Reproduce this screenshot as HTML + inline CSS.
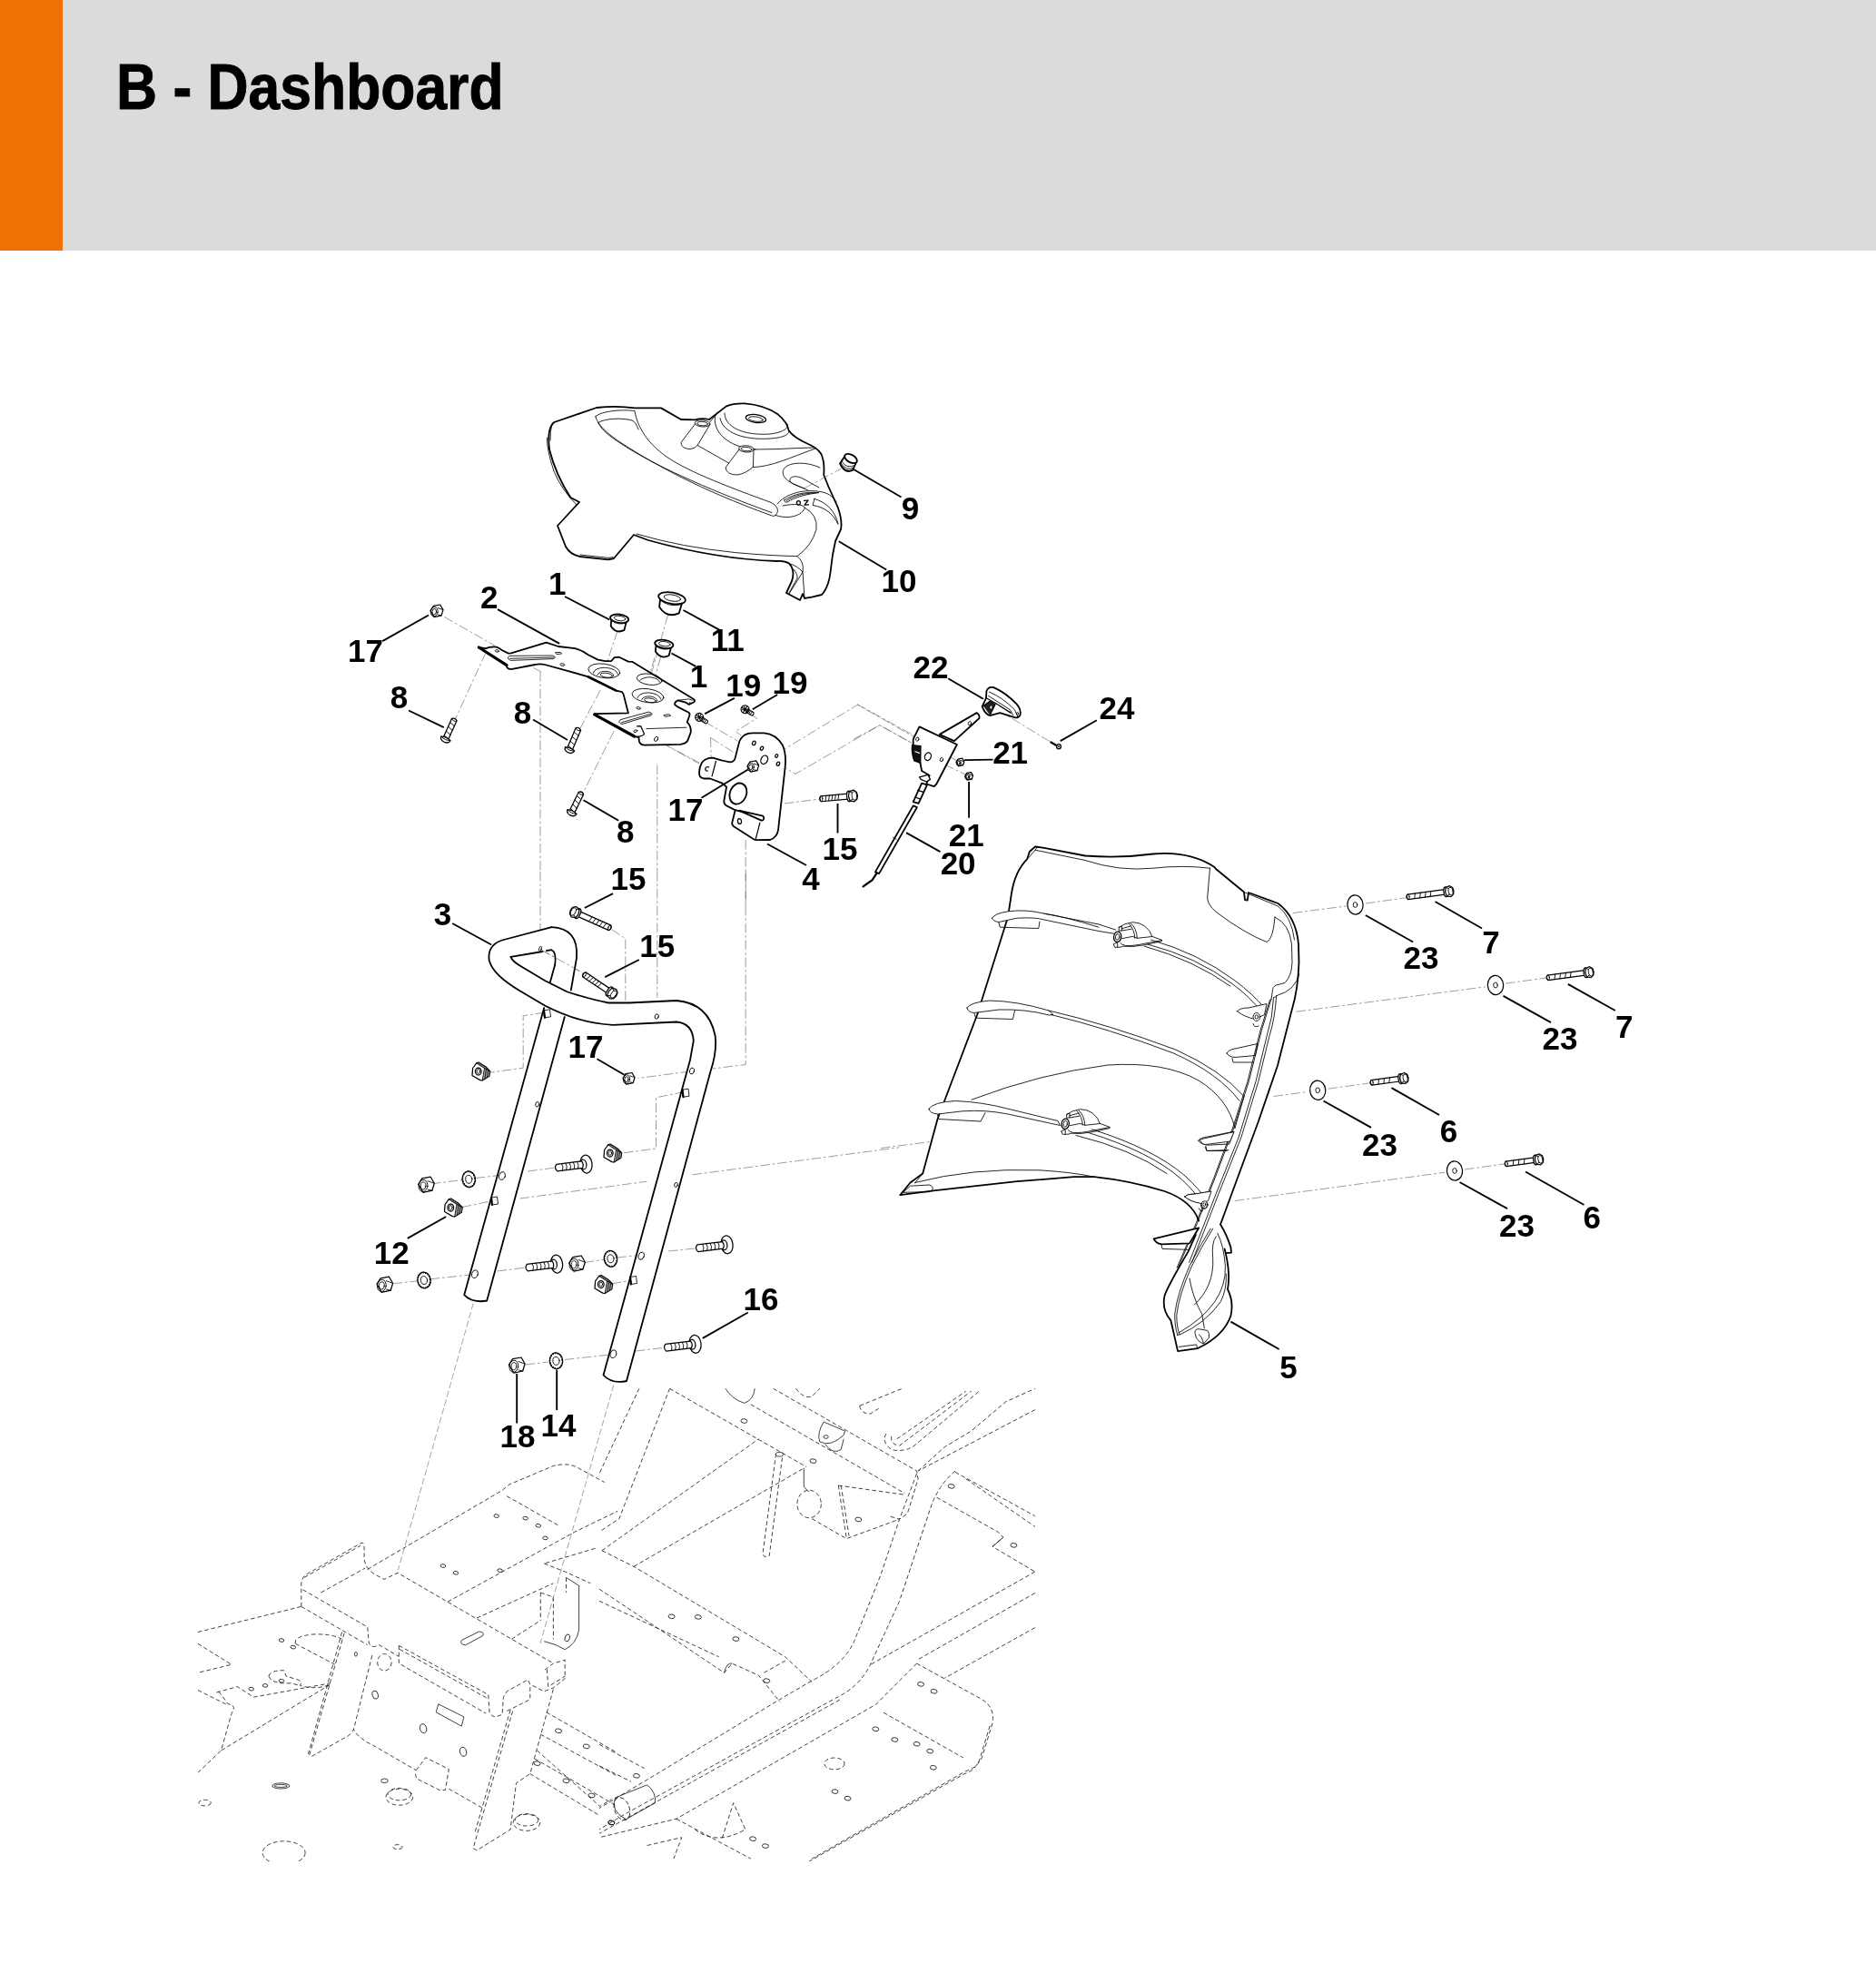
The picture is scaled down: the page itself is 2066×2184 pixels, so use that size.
<!DOCTYPE html>
<html><head><meta charset="utf-8"><title>B - Dashboard</title>
<style>
html,body{margin:0;padding:0;background:#fff;}
body{width:2066px;height:2184px;position:relative;overflow:hidden;font-family:"Liberation Sans",sans-serif;}
#hdr{position:absolute;left:0;top:0;width:2066px;height:275.5px;background:#dadbdb;}
#bar{position:absolute;left:0;top:0;width:69px;height:275.5px;background:#ee7203;}
#ttl{-webkit-text-stroke:0.9px #000;position:absolute;left:128px;top:56px;font-size:69.5px;transform-origin:0 0;transform:scaleX(0.898);font-weight:700;color:#000;white-space:nowrap;letter-spacing:0px;line-height:80px;}
svg{position:absolute;left:0;top:0;will-change:transform;}
.k{fill:none;stroke:#000;stroke-width:1.8;stroke-linejoin:round;stroke-linecap:round;}
.m{fill:none;stroke:#000;stroke-width:1.25;stroke-linejoin:round;stroke-linecap:round;}
.t{fill:none;stroke:#000;stroke-width:0.85;stroke-linejoin:round;stroke-linecap:round;}
.w{fill:#fff;}
.f{fill:#fff;stroke:none;}
.ld{fill:none;stroke:#000;stroke-width:1.9;stroke-linecap:butt;}
.dd{fill:none;stroke:#5a5a5a;stroke-width:0.6;stroke-dasharray:10.5 2.8 2.8 2.8;}
.dl{fill:none;stroke:#666;stroke-width:0.6;stroke-dasharray:7 3;}
.g{fill:none;stroke:#111;stroke-width:0.8;stroke-dasharray:4.6 2.9;stroke-linejoin:round;}
.gs{fill:none;stroke:#111;stroke-width:0.8;stroke-linejoin:round;}
.n{font-family:"Liberation Sans",sans-serif;font-weight:700;font-size:35px;fill:#000;text-anchor:middle;}
</style></head><body>
<div id="hdr"></div><div id="bar"></div><div id="ttl">B - Dashboard</div>
<svg width="2066" height="2184" viewBox="0 0 2066 2184">
<!-- 03_frame.svg -->
<clipPath id="fc"><rect x="218" y="1529" width="922" height="521"/></clipPath>
<g clip-path="url(#fc)">
<path class="g" d="M331.8,1769.4L331.8,1743.8Q332.5,1736.6 338.2,1733.5L397.5,1699.5Q401.1,1698.2 401.1,1702.8L401.1,1716.9Q402.7,1728.9 414.9,1735.1L423.1,1739.4L438,1732.3L609.4,1832"/>
<path class="g" d="M333.6,1750.9L404.7,1791.9L406.2,1809Q407.8,1814.1 412.9,1813.4L417.5,1811.6L439.3,1824.4"/>
<path class="g" d="M335.1,1737.4L397,1702.3"/>
<path class="g" d="M331.8,1769.4L404.7,1811.6"/>
<path class="g" d="M439.3,1812.3L537.8,1866.6L539,1885.8Q541.6,1890.9 546,1890.9L553.1,1888.3L554.4,1869.2L558.2,1862.8L581.3,1850L583.8,1855.1L599.2,1862.8L609.4,1858.9L622.2,1848.7L622.2,1828.2L609.4,1832L599.2,1839.7"/>
<path class="g" d="M439.3,1812.3L439.3,1832L535.2,1887.1"/>
<path class="g" d="M558.2,1884.5L583.8,1871.7L583.8,1855.1"/>
<path class="g" d="M602.3,1838.4L603.8,1857.6L622.2,1846.1"/>
<path class="g" d="M440,1816.4L536.2,1870.2"/>
<path class="g" d="M353.5,1754L402.1,1727.1"/>
<path class="g" d="M404.7,1728.4L553.1,1641.4L560.8,1635L609.4,1614.5Q624.8,1610.7 635,1615.8L665.7,1632.5"/>
<path class="g" d="M558.2,1647.8L614.5,1679.8"/>
<path class="g" d="M493,1764.2L632.4,1687.5L680,1664.4"/>
<path class="g" d="M379.1,1798.8L340.7,1933.1L343.3,1934.4L384.2,1911.4L389.4,1905L393.2,1910.1L402.1,1917.8L409.8,1921.6L458.4,1949.8"/>
<path class="g" d="M376.6,1797.5L339.5,1931.8"/>
<path class="g" d="M409.8,1823.1L389.4,1905"/>
<path class="g" d="M458.4,1949.8L468.7,1935.7L494.3,1948.5L490.4,1971.5L484,1971.5L458.4,1958.7L457.2,1951"/>
<path class="g" d="M494.3,1970.2L532.7,1992"/>
<path class="g" d="M564.6,1884.5L521.1,2035.5L525,2038L562.1,2015L568.5,1963.8L583.8,1953.6L609.4,1860.2"/>
<path class="g" d="M562.1,1883.2L522.9,2018.8"/>
<path class="g" d="M217.9,1797.5L331.8,1769.4"/>
<path class="g" d="M217.9,1810.3L255,1833.3L217.9,1842.3"/>
<path class="g" d="M217.9,1861.5L251.2,1878.1"/>
<path class="g" d="M325.4,1810.3Q322.8,1802.6 343.3,1800.1Q363.8,1798.8 376.6,1805.2"/>
<path class="g" d="M325.4,1810.3L368.9,1833.3"/>
<path class="g" d="M238.4,1864L261.4,1857.6L279.3,1869.2L363.8,1853.8"/>
<path class="g" d="M240.9,1862.8L251.2,1876.8Q261.4,1878.1 255,1887.1L243.5,1928L363.8,1855.1"/>
<path class="g" d="M217.9,1952.3L243.5,1928"/>
<path class="g" d="M296,1846.1Q297.2,1839.7 312.6,1839.7L315.1,1846.1L327.9,1850Q333.1,1851.2 330.5,1856.4Q348.4,1861.5 363.8,1855.1"/>
<path class="g" d="M296,1846.1Q299.8,1855.1 320.3,1853.8L330.5,1856.4"/>
<ellipse class="g" cx="439.8" cy="1979.2" rx="14.8" ry="9"/>
<ellipse class="g" cx="439.8" cy="1976.1" rx="12.8" ry="6.7"/>
<ellipse class="g" cx="580" cy="2007.3" rx="14.8" ry="9"/>
<ellipse class="g" cx="580" cy="2004.3" rx="12.8" ry="6.7"/>
<ellipse class="g" cx="312.6" cy="2040.6" rx="23.5" ry="12.8"/>
<ellipse class="gs" cx="309.3" cy="1966.9" rx="9.5" ry="3.1"/>
<ellipse class="gs" cx="309.3" cy="1966.9" rx="7.2" ry="1.5"/>
<ellipse class="g" cx="225.6" cy="1985.6" rx="6.7" ry="3.3"/>
<ellipse class="g" cx="438" cy="2034.2" rx="5.1" ry="2.6"/>
<ellipse class="gs" cx="423.4" cy="1961.3" rx="3.8" ry="2.3"/>
<ellipse class="g" cx="423.4" cy="1830.8" rx="7.7" ry="9.2"/>
<ellipse class="gs" cx="413.2" cy="1866.6" rx="3.1" ry="4.6" transform="rotate(-15 413.2 1866.6)"/>
<ellipse class="gs" cx="466.1" cy="1903.7" rx="3.6" ry="5.1" transform="rotate(-15 466.1 1903.7)"/>
<ellipse class="gs" cx="510.1" cy="1929.3" rx="3.6" ry="5.1" transform="rotate(-15 510.1 1929.3)"/>
<ellipse class="gs" cx="391.9" cy="1821.8" rx="1.5" ry="2.3"/>
<path class="gs" d="M482.8,1876.8L510.9,1890.9L508.3,1901.1L480.2,1885.8Z"/>
<path class="gs" d="M508.3,1806.5Q505.8,1810.8 512.7,1811.8L531.6,1801.6Q534.2,1797.5 527.5,1797Z"/>
<ellipse class="gs" cx="546.7" cy="1669.6" rx="2.8" ry="1.8" transform="rotate(10 546.7 1669.6)"/>
<ellipse class="gs" cx="578.7" cy="1672.1" rx="2.8" ry="1.8" transform="rotate(10 578.7 1672.1)"/>
<ellipse class="gs" cx="592.8" cy="1680.3" rx="2.8" ry="1.8" transform="rotate(10 592.8 1680.3)"/>
<ellipse class="gs" cx="600.5" cy="1693.9" rx="2.8" ry="1.8" transform="rotate(10 600.5 1693.9)"/>
<ellipse class="gs" cx="487.9" cy="1724.6" rx="2.8" ry="1.8" transform="rotate(10 487.9 1724.6)"/>
<ellipse class="gs" cx="501.9" cy="1732.3" rx="2.8" ry="1.8" transform="rotate(10 501.9 1732.3)"/>
<ellipse class="gs" cx="550.6" cy="1729.7" rx="2.8" ry="1.8" transform="rotate(10 550.6 1729.7)"/>
<ellipse class="gs" cx="310" cy="1806.5" rx="2.8" ry="1.8" transform="rotate(10 310 1806.5)"/>
<ellipse class="gs" cx="322.8" cy="1814.1" rx="2.8" ry="1.8" transform="rotate(10 322.8 1814.1)"/>
<ellipse class="gs" cx="276.8" cy="1860.2" rx="2.8" ry="1.8" transform="rotate(10 276.8 1860.2)"/>
<ellipse class="gs" cx="292.1" cy="1856.4" rx="2.8" ry="1.8" transform="rotate(10 292.1 1856.4)"/>
<ellipse class="gs" cx="310" cy="1851.2" rx="2.8" ry="1.8" transform="rotate(10 310 1851.2)"/>
<path class="g" d="M595.3,1754L595.3,1784.7"/>
<path class="g" d="M595.3,1754L609.4,1759.1L609.4,1805.2"/>
<path class="gs" d="M623.5,1737.4L637.6,1746.3L637.6,1794.9Q635,1810.3 622.2,1816.7L612,1811.6L599.2,1807.7"/>
<path class="g" d="M623.5,1737.4L623.5,1754"/>
<ellipse class="gs" cx="624.8" cy="1803.9" rx="2.6" ry="4.1" transform="rotate(20 624.8 1803.9)"/>
<path class="g" d="M525,1782.1L609.4,1743.8"/>
<path class="g" d="M563.4,1805.2L595.3,1784.7"/>
<path class="g" d="M599.2,1722L622.2,1731L650.4,1743.8"/>
<path class="g" d="M655.5,1705.4L599.2,1722"/>
<path class="g" d="M601.7,1885.8L680,1930.6"/>
<path class="g" d="M595.3,1910.1L680,1956.2"/>
<path class="g" d="M591.5,1928L660.6,1989.4L673.4,1981.7"/>
<path class="g" d="M588.9,1937L680,1989.4"/>
<path class="g" d="M583.8,1953.6L660.6,1999.7"/>
<ellipse class="gs" cx="615" cy="1906.3" rx="3.6" ry="2.3" transform="rotate(10 615 1906.3)"/>
<ellipse class="gs" cx="645.8" cy="1923.4" rx="3.6" ry="2.3" transform="rotate(10 645.8 1923.4)"/>
<ellipse class="gs" cx="591.5" cy="1942.1" rx="3.6" ry="2.3" transform="rotate(10 591.5 1942.1)"/>
<ellipse class="gs" cx="623.5" cy="1961.3" rx="3.6" ry="2.3" transform="rotate(10 623.5 1961.3)"/>
<ellipse class="gs" cx="651.6" cy="1977.4" rx="3.6" ry="2.3" transform="rotate(10 651.6 1977.4)"/>
<ellipse class="gs" cx="673.4" cy="2007.3" rx="3.6" ry="2.3" transform="rotate(10 673.4 2007.3)"/>
<path class="g" d="M737.5,1529.3L888.2,1615.6"/>
<path class="g" d="M851.6,1529.3L1009.6,1620L1011.1,1628.7L999.4,1666.8L990.6,1673.2L978.9,1669.7"/>
<path class="g" d="M826.8,1546.8L996.5,1644.8"/>
<path class="g" d="M703.9,1529.3L660,1622.9"/>
<path class="g" d="M737.5,1529.3L681.9,1672.6L660,1687.2"/>
<path class="g" d="M1009.6,1622.9L990.6,1673.2L970.1,1734.1L940.9,1807.2Q929.2,1833.5 894.1,1851.1L858.9,1871.6L721.4,1954.9L660,1991.5"/>
<path class="g" d="M1052,1620Q1034.5,1634.6 1025.7,1658L990.6,1763.3L958.4,1833.5Q946.7,1856.9 923.3,1868.6L689.3,1997.4L660,2014.9"/>
<path class="g" d="M924.8,1872.1L660,2019.3"/>
<path class="g" d="M1009.6,1832.1L1081.3,1871.6Q1095.9,1880.3 1093,1897.9L1081.3,1935.9Q1075.4,1947.6 1063.7,1950.6L894.1,2047.1"/>
<path class="g" d="M1090.1,1900.8L1079,1937.4Q1074,1950 1062.3,1953.5L891.1,2050"/>
<path class="g" d="M1009.6,1832.1L964.3,1877.4L744.8,2003.2L660,2023.7"/>
<path class="g" d="M973,1886.2L1060.8,1935.9"/>
<path class="g" d="M1052,1621.4L1139.8,1669.7"/>
<path class="g" d="M1031.6,1649.2L1098.9,1687.2L1104.7,1693.1L1093,1703.3L1139.8,1731.1"/>
<path class="g" d="M1063.7,1628.7L1139.8,1681.4"/>
<path class="g" d="M1139.8,1731.1L958.4,1833.5"/>
<path class="g" d="M1139.8,1754.5L1011.1,1827.7"/>
<path class="g" d="M1139.8,1792.6L1040.3,1848.2"/>
<path class="g" d="M1139.8,1552.7L1011.1,1620"/>
<path class="g" d="M662.9,1707.7L835.5,1584.8"/>
<path class="g" d="M698,1725.3L885.3,1617"/>
<path class="g" d="M662.9,1707.7L698,1725.3L864.8,1824.8L894.1,1852.5"/>
<path class="g" d="M660,1750.1L797.5,1842.3L806.3,1832.1L835.5,1845.2L858.9,1874.5"/>
<path class="g" d="M660,1763.3L791.7,1824.8"/>
<path class="g" d="M841.4,1842.3L864.8,1829.1"/>
<path class="g" d="M854.6,1600.9L839.9,1712.1Q842.9,1716.5 847.2,1713.6L861.9,1602.4"/>
<ellipse class="gs" cx="858.4" cy="1601.8" rx="4.1" ry="2.3"/>
<path class="gs" d="M885.3,1617L885.3,1637.5L891.1,1643.4"/>
<ellipse class="g" cx="891.1" cy="1656.5" rx="13.2" ry="15.2"/>
<path class="g" d="M894.1,1672.6L932.1,1694.6L990.6,1673.2"/>
<path class="g" d="M923.3,1636L932.1,1693.1"/>
<path class="g" d="M926.2,1636L935,1691.6"/>
<path class="g" d="M923.3,1636L996.5,1646.3"/>
<path class="gs" d="M907.2,1565.8Q899.3,1579 902.8,1587.8Q914.5,1594.2 929.2,1580.5L930.6,1576.1L908.7,1566.7Z"/>
<path class="gs" d="M908.7,1590.7Q917.5,1602.4 926.2,1596.5L929.2,1584.8"/>
<ellipse class="gs" cx="909.6" cy="1582.5" rx="2.6" ry="1.8"/>
<path class="g" d="M946.7,1548.3L993.5,1529.3"/>
<path class="g" d="M946.7,1548.3Q948.2,1557.1 958.4,1557.1L970.1,1549.7"/>
<path class="g" d="M976,1579Q970.1,1587.8 981.8,1596.5Q993.5,1599.5 1005.2,1593.6L1078.4,1532.2"/>
<path class="g" d="M981.8,1581.9Q980.4,1590.7 990.6,1592.2L1069.6,1532.2"/>
<path class="g" d="M987.7,1584.8L1063.7,1532.2"/>
<path class="g" d="M1011.1,1620L1040.3,1593.6L1069.6,1576.1L1107.6,1543.9L1139.8,1529.3"/>
<path class="gs" d="M799,1529.3Q806.3,1541 819.4,1545.3Q829.7,1542.4 831.2,1529.3"/>
<path class="g" d="M876.5,1529.3Q885.3,1541 894.1,1538L902.8,1529.3"/>
<path class="gs" d="M677.6,1979.8Q671.7,1994.4 689.3,2003.8L721.4,1985.7Q722.9,1974 712.7,1965.8Z"/>
<ellipse class="g" cx="684.9" cy="1992.1" rx="8.2" ry="12.9" transform="rotate(-20 684.9 1992.1)"/>
<path class="g" d="M744.8,2003.2L826.8,2047.1"/>
<path class="g" d="M765.3,2014.9Q788.7,2033.1 820.9,2014.9L807.7,1985.7L794.6,2026.6"/>
<path class="g" d="M712.7,2032.5L750.7,2023.7L741.9,2047.1"/>
<path class="g" d="M660,1921.3L709.7,1947.6"/>
<path class="g" d="M660,1944.7L695.1,1962.3"/>
<path class="gs" d="M797.5,1842.3Q800.4,1830.6 806.3,1832.1"/>
<path class="gs" d="M1093,1703.3L1101.8,1696L1104.7,1693.1"/>
<ellipse class="gs" cx="819.4" cy="1565" rx="3.5" ry="2.3" transform="rotate(8 819.4 1565)"/>
<ellipse class="gs" cx="895.5" cy="1609.1" rx="3.5" ry="2.3" transform="rotate(8 895.5 1609.1)"/>
<ellipse class="gs" cx="1047.7" cy="1636.9" rx="3.5" ry="2.3" transform="rotate(8 1047.7 1636.9)"/>
<ellipse class="gs" cx="1116.4" cy="1701.9" rx="3.5" ry="2.3" transform="rotate(8 1116.4 1701.9)"/>
<ellipse class="gs" cx="945.3" cy="1673.5" rx="3.5" ry="2.3" transform="rotate(8 945.3 1673.5)"/>
<ellipse class="gs" cx="739.6" cy="1780.3" rx="3.5" ry="2.3" transform="rotate(8 739.6 1780.3)"/>
<ellipse class="gs" cx="768.8" cy="1780.9" rx="3.5" ry="2.3" transform="rotate(8 768.8 1780.9)"/>
<ellipse class="gs" cx="810.4" cy="1805.1" rx="3.5" ry="2.3" transform="rotate(8 810.4 1805.1)"/>
<ellipse class="gs" cx="844.3" cy="1851.1" rx="3.5" ry="2.3" transform="rotate(8 844.3 1851.1)"/>
<ellipse class="gs" cx="1014" cy="1854.9" rx="3.5" ry="2.3" transform="rotate(8 1014 1854.9)"/>
<ellipse class="gs" cx="1028.6" cy="1862.8" rx="3.5" ry="2.3" transform="rotate(8 1028.6 1862.8)"/>
<ellipse class="gs" cx="964.3" cy="1904.3" rx="3.5" ry="2.3" transform="rotate(8 964.3 1904.3)"/>
<ellipse class="gs" cx="985.3" cy="1916" rx="3.5" ry="2.3" transform="rotate(8 985.3 1916)"/>
<ellipse class="gs" cx="1009.6" cy="1920.7" rx="3.5" ry="2.3" transform="rotate(8 1009.6 1920.7)"/>
<ellipse class="gs" cx="1024.2" cy="1928.6" rx="3.5" ry="2.3" transform="rotate(8 1024.2 1928.6)"/>
<ellipse class="gs" cx="1027.8" cy="1946.8" rx="3.5" ry="2.3" transform="rotate(8 1027.8 1946.8)"/>
<ellipse class="gs" cx="919.5" cy="1973.1" rx="3.5" ry="2.3" transform="rotate(8 919.5 1973.1)"/>
<ellipse class="gs" cx="933.6" cy="1980.7" rx="3.5" ry="2.3" transform="rotate(8 933.6 1980.7)"/>
<ellipse class="gs" cx="701" cy="1955.8" rx="3.5" ry="2.3" transform="rotate(8 701 1955.8)"/>
<ellipse class="gs" cx="673.2" cy="2007.6" rx="3.5" ry="2.3" transform="rotate(8 673.2 2007.6)"/>
<ellipse class="gs" cx="829.1" cy="2025.2" rx="3.5" ry="2.3" transform="rotate(8 829.1 2025.2)"/>
<ellipse class="gs" cx="842.9" cy="2033.1" rx="3.5" ry="2.3" transform="rotate(8 842.9 2033.1)"/>
<ellipse class="g" cx="918.9" cy="1942.4" rx="11.1" ry="6.4"/>
</g>

<!-- 05_dd1.svg -->
<path class="dd" d="M489.5,679.5 L545,711.2"/>
<path class="dd" d="M535,718.8 L501.2,792.5"/>
<path class="dd" d="M595,740 L595,960"/>
<path class="dd" d="M587.5,735.5 L596.2,740"/>
<path class="dd" d="M680,695 L665,740"/>
<path class="dd" d="M661.2,760 L638.8,802.5"/>
<path class="dd" d="M735.5,677.5 L715,750"/>
<path class="dd" d="M727.5,723.8 L714.5,770"/>
<path class="dd" d="M721.2,723.8 L716.2,740"/>
<path class="dd" d="M676.2,805 L642.5,872.5"/>
<path class="dd" d="M723.8,842.5 L723.8,960"/>
<path class="dd" d="M728,817.5 L770,840"/>

<!-- 06_dd3.svg -->
<path class="dd" d="M595,960 L595,1043.8"/>
<path class="dd" d="M596.2,1046.2 L641.2,1071.2"/>
<path class="dd" d="M723.8,960 L723.8,1098.8"/>
<path class="dd" d="M673.8,1023.8 L688.8,1033.8 L688.8,1103.8"/>
<path class="dd" d="M821.2,960 L821.2,1172.5 L785,1177"/>
<path class="dd" d="M760,1180 L702.5,1187.5"/>
<path class="dd" d="M600,1115 L576.2,1118.8 L576.2,1176.2 L540,1181.2"/>
<path class="dd" d="M753.8,1202.5 L722.5,1208.8 L722.5,1265 L685,1270"/>
<path class="dd" d="M475,1303.8 L510,1299.5"/>
<path class="dd" d="M523.8,1297.5 L550,1294.5"/>
<path class="dd" d="M581.2,1290 L610,1286.2"/>
<path class="dd" d="M508.8,1329.5 L542.5,1322.5"/>
<path class="dd" d="M572.5,1320 L712.5,1301.2"/>
<path class="dd" d="M762.5,1293.8 L990,1263.8"/>
<path class="dd" d="M432.5,1413.8 L460,1410.8"/>
<path class="dd" d="M473.8,1408.8 L520,1403.8"/>
<path class="dd" d="M547.5,1400 L577.5,1396.2"/>
<path class="dd" d="M643.8,1390.5 L666.2,1387"/>
<path class="dd" d="M679.5,1385 L703.8,1382.5"/>
<path class="dd" d="M736.2,1378 L765,1375"/>
<path class="dd" d="M673.8,1413.8 L696.2,1410"/>

<!-- 07_dd4.svg -->
<path class="dd" d="M578.8,1503 L603.8,1500"/>
<path class="dd" d="M622,1497.5 L671.2,1492"/>
<path class="dd" d="M700,1488 L730,1484.5"/>
<path class="dl" d="M521.2,1435.5 L438.5,1729"/>
<path class="dl" d="M675.8,1525.5 L595,1810"/>

<!-- 08_dd5.svg -->
<path class="dd" d="M970,1264.5 L1165,1239.5"/>

<!-- 09_dd20.svg -->
<path class="dd" d="M944.3,775.7 L1007.4,810.6"/>
<path class="dd" d="M940,814.1 L969,798.7 L1005.7,819.2"/>
<path class="dd" d="M1013.3,816.6 L1056,838.8"/>
<path class="dd" d="M1040.6,842.2 L1065.4,854.1"/>
<path class="dd" d="M1098.6,781.6 L1157.5,817.5"/>
<path class="dd" d="M776.2,795 L812.5,816.2"/>
<path class="dd" d="M826.2,786.2 L833.8,791.2 L810,805.5 L816.2,810"/>
<path class="dd" d="M782.5,812.5 L830,842.5"/>
<path class="dd" d="M782.5,812.5 L783.8,855"/>
<path class="dd" d="M730,818.8 L770,841.2"/>
<path class="dd" d="M840,824.5 L853.8,831.2 L944.5,776.2 L1012.5,815"/>
<path class="dd" d="M857.5,841.2 L875.8,852.5 L968.8,798.8 L1011.2,822.5"/>
<path class="dd" d="M863.8,885 L902.5,880"/>
<path class="dd" d="M821.2,925 L821.2,1000"/>

<!-- 09_dd23.svg -->
<path class="dd" d="M1423.8,1005.5 L1482.5,998"/>
<path class="dd" d="M1503.8,995 L1547.5,988.8"/>
<path class="dd" d="M1427.5,1114.2 L1636.2,1086.8"/>
<path class="dd" d="M1658,1083.2 L1702.5,1077"/>
<path class="dd" d="M1402.5,1207.5 L1440,1202.5"/>
<path class="dd" d="M1462.5,1199.2 L1507.5,1193"/>
<path class="dd" d="M1360,1322.5 L1591.2,1291.2"/>
<path class="dd" d="M1613,1288 L1656.2,1282"/>

<!-- 09_dd9.svg -->


<!-- 10_p10.svg -->
<path class="k w" d="M605,475Q606.4,468 610.4,465L657,449Q680,446.6 699,449.4L728,449.4L750,462L765.6,462.4Q773,460 781,462L799.6,447.6Q808,444 820,444.4Q842,446 857,456.6Q867,465 868.6,474Q874,482 890,489Q900,493 904.4,500Q908.4,509 907.2,523L912.4,536L922.4,558Q928,573 926,583L920,596L917,611L914.4,631Q912.4,647 905,655L894,657.6L886,659L884,654L881,661L866,653L872,640Q876,628 869,620.6Q864,617.4 856,618Q790,616 714,595L698,589L676,615L670,616.4L639,613Q628,611 623,602L614,579L638,553L628.4,548Q612,523 605,495Q603.6,483 605,475Z"/>
<path class="t" d="M602.4,482Q602,495 610,519Q618,539 635,556"/>
<path class="t" d="M608,467Q605.6,475 606,485"/>
<path class="t" d="M639,611L670,614.4L675,613.6"/>
<path class="t" d="M701,588Q750,602.6 810,608.6Q850,612.2 878,612.6Q894,601 899,583Q901,567 886,559"/>
<path class="t" d="M878,612.6Q886,619 884,630L886,658.6"/>
<path class="t" d="M869,620.6Q878,623 884,630L869,654"/>
<path class="t" d="M874,627Q879,633 878,637L869,653"/>
<path class="t" d="M656,458.6C662,452.6 686,450.6 699,452.6C702,471 714,489 734,503C760,521 810,539 848,553C856,556 859,563 854,567.4C853,568.6 851,568.6 849,567.6C770,539 720,511 686,489C670,479 657,467 656,458.6Z"/>
<path class="t" d="M659,465.4C666,460.6 686,460 696,463C699.6,464.6 701.2,468 703,473"/>
<path class="t" d="M659,465.4C662,475 678,485 694,495C730,517 790,543 850,564.6"/>
<path class="t" d="M798,455C798,471 820,480 848,478C864,476 869,471 867,466.6"/>
<path class="t" d="M793,460.6C796,477 820,485 848,483C864,482 870,478 868.6,474"/>
<path class="t" d="M788,456.6C783,475 802,493 832,495"/>
<path class="t" d="M830,495L856,494.6Q878,493.4 896,493"/>
<ellipse class="m w" cx="832.4" cy="461" rx="11.2" ry="4.4" transform="rotate(8 832.4 461)"/>
<ellipse class="t" cx="832.4" cy="461.6" rx="8" ry="2.6" transform="rotate(8 832.4 461.6)"/>
<path class="t w" d="M765.4,467L750,487.4Q750,494 760,494.6Q766,494 768.4,490L781.6,468"/>
<ellipse class="t w" cx="773.6" cy="466.4" rx="8.4" ry="3.6" transform="rotate(4 773.6 466.4)"/>
<ellipse class="t" cx="773.6" cy="466.6" rx="6" ry="2.2" transform="rotate(4 773.6 466.6)"/>
<path class="t w" d="M814,495L799,515Q800,523 812,523Q822,521.4 829.4,514L830,495.6"/>
<ellipse class="t w" cx="822" cy="494.4" rx="8.4" ry="3.6" transform="rotate(4 822 494.4)"/>
<ellipse class="t" cx="822" cy="494.6" rx="6" ry="2.2" transform="rotate(4 822 494.6)"/>
<path class="t" d="M768.4,490.6L802.6,510"/>
<path class="t" d="M781.6,465L790,455"/>
<path class="t" d="M829.4,514.6C850,514 870,504 898,494"/>
<path class="t" d="M903,515C888,508 870,509 864.4,515C859,521 864,528.6 874,533L890,540"/>
<path class="t" d="M870,530C868.4,524.6 876,523 884,527L902,537"/>
<path class="t" d="M870,530C872,533 878,535 886,538"/>
<path class="t" d="M856,555C866,543 886,538 906,542C914,544 918,548 921,553"/>
<path class="t" d="M864,550.6C874,544 888,541.4 902,542.6C890,544 876,547 867,553C864.4,553.4 863,552.2 864,550.6Z"/>
<path class="t" d="M866,551.6C874,546 886,543 898,543"/>
<path class="t" d="M897,549.4L895,556.4C910,559 918,567 923,577.4C920,563 910,553 897,549.4Z"/>
<path class="t" d="M854,567.4C870,573 884,567 886.4,559C884,555 874,554.6 862,557"/>
<ellipse class="m" cx="879.4" cy="553.8" rx="2" ry="2.2"/>
<path class="m" d="M885.6,551.4L890,551L886,556.2L890.4,555.8"/>

<!-- 20_p02.svg -->
<path class="k w" d="M527.3,713L534.9,714.1Q540,712 546.7,712.6Q550,713.6 552.6,716L560,719.6L562.9,719.4L601.6,707.7L614.9,712L633.3,714.1Q640.6,716 647.9,721.3L658.6,726.6L666.6,728.2L673.3,728L676.6,724.2L681.9,723.7L691.9,728.6L696.2,728.8L763.9,769.9Q766.3,771.9 763.9,773.5L758.8,775.9L755.9,773.9L746.8,771.3Q742.3,773.3 743.3,776.2L746.5,778.6L758.5,784.7Q760.1,786.1 759.3,788.2L756.7,795.4Q761.5,799.9 760.7,806.6L757.2,815.9Q754.5,819.4 749.2,819.9L709.2,820.7Q704.7,819.9 703.9,816.2L703.4,811.9L698.6,811.4L654.6,787.3L655.4,786.1L691.9,785.3L686.6,764.6L685.2,762.1L678.6,760.6L663.9,753.3L647.9,745.3L600,732Q594.6,730.6 589.3,732L565.3,736.6Q561,737.9 558.6,735.3L557.3,732.6Z"/>
<path class="k" d="M527.3,713L558,732.6" style="stroke-width:3.2"/>
<path class="k" d="M654.6,786.9L698.6,811" style="stroke-width:3.2"/>
<path class="k" d="M647.9,745.5L678.6,760.6" style="stroke-width:2.6"/>
<path class="t" d="M746.5,771.3L758.5,769.9L763.2,771.3"/>
<path class="t" d="M758.5,775.9L759.9,773.3"/>
<path class="t" d="M560.6,722.6Q557.3,725.3 562.4,727.4L609.6,725.6Q613.3,723.7 609,722.1Z"/>
<path class="t" d="M561.6,725.3L610,724"/>
<ellipse class="t" cx="547.3" cy="716.9" rx="2" ry="1.2" transform="rotate(10 547.3 716.9)"/>
<path class="t" d="M612,718.6L617.3,718.4L618.6,720L613.3,720.5Z"/>
<ellipse class="t" cx="619.3" cy="732" rx="2.4" ry="1.3" transform="rotate(10 619.3 732)"/>
<ellipse class="t" cx="665.3" cy="738.9" rx="17.6" ry="7.7" transform="rotate(8 665.3 738.9)"/>
<path class="t" d="M653.3,741.3Q654.6,735.3 666.6,735.3Q678.6,736.2 680.6,742.6"/>
<path class="t" d="M657.9,743.3Q659.9,738.9 667.9,739.3Q675.3,740.2 675.9,744.6"/>
<ellipse class="t" cx="667.9" cy="743.7" rx="6.7" ry="2.4" transform="rotate(8 667.9 743.7)"/>
<ellipse class="t" cx="715.2" cy="748.2" rx="14" ry="6" transform="rotate(8 715.2 748.2)"/>
<path class="t" d="M704.6,749.3Q709.2,745.3 717.2,745.9Q725.2,747.3 726.6,751.3"/>
<ellipse class="t" cx="713.5" cy="766.2" rx="17.6" ry="7.5" transform="rotate(8 713.5 766.2)"/>
<path class="t" d="M701.9,768.6Q703.9,762.9 714.6,762.9Q725.9,763.9 727.9,769.9"/>
<path class="t" d="M706.6,770.6Q708.6,766.6 715.9,766.9Q723.2,767.9 723.9,771.9"/>
<ellipse class="t" cx="715.9" cy="771.3" rx="6.4" ry="2.3" transform="rotate(8 715.9 771.3)"/>
<path class="t" d="M682.8,793Q679.9,795.9 685,797.5L717,787.9Q719.9,785.5 714.8,784.2Z"/>
<path class="t" d="M684.6,795.7L716.6,786.3"/>
<ellipse class="t" cx="703.2" cy="779.9" rx="2.4" ry="1.2" transform="rotate(15 703.2 779.9)"/>
<path class="t" d="M731.2,787.7L736.6,786.6L738.6,788.2L733.2,789.3Z"/>
<ellipse class="t" cx="699.9" cy="805.2" rx="2.1" ry="1.2" transform="rotate(-20 699.9 805.2)"/>
<ellipse class="t" cx="722.6" cy="813.9" rx="1.9" ry="2.7" transform="rotate(30 722.6 813.9)"/>
<path class="t" d="M711.9,802.6L755.9,801.2"/>
<path class="m" d="M698.6,811.4Q708.6,811.6 709.5,808.2L705.5,799.6L701.5,799.9"/>

<!-- 30_p04.svg -->
<path class="k w" d="M819.8,809.6Q823.6,807.4 828.9,807.4L841.7,807.4Q854.5,808.5 861.9,820.8Q866.2,830.4 864.6,845.3L857.1,913.5Q856.1,922 848.1,925L833.2,925.2Q830.5,925 828.9,923.6L808.1,910.3Q805.4,908.2 806.5,905L809.7,892.2L800.1,887.4Q796.7,885.3 797.4,881.5L800.1,866.6L794.8,862.3L782,857.5L775.6,857.5Q771.3,857 770.3,853.8Q769.2,846.4 772.9,840Q776.7,834.6 785.2,834.6Q794.8,837.8 803.8,839.4Q808.6,839.4 809.7,834.6L814,817.6Q815,813.3 819.8,809.6Z"/>
<path class="k w" d="M814,892.7L840.1,898.6Q842.1,900.2 840.6,902.9Q839.6,904.1 837.4,903.1Z"/>
<path class="k" d="M809.7,892.2L818.2,894.5"/>
<ellipse class="k" cx="812.9" cy="874.1" rx="9.1" ry="11.9" transform="rotate(22 812.9 874.1)"/>
<ellipse class="m" cx="841.7" cy="836.8" rx="3.6" ry="4.9" transform="rotate(25 841.7 836.8)"/>
<ellipse class="m" cx="830.3" cy="818.4" rx="1.7" ry="2.3" transform="rotate(25 830.3 818.4)"/>
<ellipse class="m" cx="839" cy="824.2" rx="1.5" ry="2.2" transform="rotate(25 839 824.2)"/>
<ellipse class="m" cx="855.2" cy="832.5" rx="1.4" ry="1.9" transform="rotate(25 855.2 832.5)"/>
<ellipse class="m" cx="856.9" cy="841.2" rx="1.6" ry="2.2" transform="rotate(25 856.9 841.2)"/>
<ellipse class="m" cx="814.5" cy="904.5" rx="2" ry="3" transform="rotate(-10 814.5 904.5)"/>
<path class="m" d="M780.4,844.8Q777.2,844.2 776.7,846.9Q776.9,849.3 779.3,849"/>
<path class="m" d="M836.9,906.1L832.1,924.7"/>
<path class="m" d="M788.4,838.4L784.1,854.9"/>

<!-- 40_hw1.svg -->
<g transform="translate(682.1 681.3) rotate(8)"><path class="k w" d="M-8.6,1.4 L-8.2,9.4 Q-1,17.6 7.1,11.7 L8.2,1.4 Z"/><ellipse class="k w" cx="0" cy="0" rx="10.2" ry="4.6"/><ellipse class="t" cx="0.4" cy="-0.3" rx="6.3" ry="2.6"/><path class="t" d="M-8.2,3.4 Q0,8 8.2,3.4"/></g>
<g transform="translate(740 658.8) rotate(10)"><path class="k w" d="M-12.6,1.9 L-12,11.9 Q-1.5,23.1 10.5,15 L12,1.9 Z"/><ellipse class="k w" cx="0" cy="0" rx="15" ry="6.2"/><ellipse class="t" cx="0.4" cy="-0.3" rx="9.3" ry="3.5"/><path class="t" d="M-12,4.7 Q0,10.8 12,4.7"/></g>
<g transform="translate(731.3 709.4) rotate(8)"><path class="k w" d="M-8.6,1.4 L-8.2,9.4 Q-1,17.6 7.1,11.7 L8.2,1.4 Z"/><ellipse class="k w" cx="0" cy="0" rx="10.2" ry="4.6"/><ellipse class="t" cx="0.4" cy="-0.3" rx="6.3" ry="2.6"/><path class="t" d="M-8.2,3.4 Q0,8 8.2,3.4"/></g>
<g transform="translate(481 673)"><path class="m w" d="M-7,-0.5 L-3.7,-5.7 L3.7,-7 L7,-1.4 L5.1,4.9 L-2.8,6.7 Z"/><ellipse class="t" cx="-2.6" cy="1.1" rx="3.9" ry="5.2" transform="rotate(8)"/><ellipse class="t" cx="-2.6" cy="1.1" rx="2.3" ry="3.3" transform="rotate(8)"/><path class="t" d="M1.3,-3.4 L6.7,-1.4 M1.5,4.1 L5.1,4.9"/></g>
<g transform="translate(500.8 791.5) rotate(24.3)"><path class="m w" d="M-3,1.2 L-3,24 L3,24 L3,1.2 Q0,-1.5 -3,1.2 Z"/><path class="t" d="M-3,1.6 Q0,4 3,1.6"/><path class="t" d="M-3,5.8 L3,7.6"/><path class="t" d="M-3,11 L3,12.8"/><path class="t" d="M-3,16.3 L3,18.1"/><path class="t" d="M-3,21.5 L3,23.3"/><path class="m w" d="M-5.5,24 Q-5.5,28 0,28.3 Q5.5,28 5.5,24 Q0,21.8 -5.5,24 Z"/><path class="t" d="M-5.5,24 Q0,26.6 5.5,24"/></g>
<g transform="translate(637.3 801.9) rotate(23)"><path class="m w" d="M-3,1.2 L-3,25 L3,25 L3,1.2 Q0,-1.5 -3,1.2 Z"/><path class="t" d="M-3,1.6 Q0,4 3,1.6"/><path class="t" d="M-3,6 L3,7.8"/><path class="t" d="M-3,11.5 L3,13.3"/><path class="t" d="M-3,16.9 L3,18.7"/><path class="t" d="M-3,22.3 L3,24.1"/><path class="m w" d="M-5.5,25 Q-5.5,29 0,29.3 Q5.5,29 5.5,25 Q0,22.8 -5.5,25 Z"/><path class="t" d="M-5.5,25 Q0,27.6 5.5,25"/></g>
<g transform="translate(640.5 872.5) rotate(26)"><path class="m w" d="M-3,1.2 L-3,24 L3,24 L3,1.2 Q0,-1.5 -3,1.2 Z"/><path class="t" d="M-3,1.6 Q0,4 3,1.6"/><path class="t" d="M-3,5.8 L3,7.6"/><path class="t" d="M-3,11 L3,12.8"/><path class="t" d="M-3,16.3 L3,18.1"/><path class="t" d="M-3,21.5 L3,23.3"/><path class="m w" d="M-5.5,24 Q-5.5,28 0,28.3 Q5.5,28 5.5,24 Q0,21.8 -5.5,24 Z"/><path class="t" d="M-5.5,24 Q0,26.6 5.5,24"/></g>
<g transform="translate(770.1 789.9) rotate(34)"><path class="m w" d="M3,-2 L10,-2 Q11.5,0 10,2 L3,2 Z" style="stroke-width:1"/><path class="t" d="M6,-2 L6,2 M8,-2 L8,2"/><circle class="m" cx="0" cy="0" r="4.4" fill="#bbb"/><path class="t" d="M-3,-2.5 L3,2.5 M-3,2.5 L3,-2.5 M-4,0 L4,0 M0,-4 L0,4" style="stroke-width:1"/></g>
<g transform="translate(820.5 781.3) rotate(31)"><path class="m w" d="M3,-2 L10,-2 Q11.5,0 10,2 L3,2 Z" style="stroke-width:1"/><path class="t" d="M6,-2 L6,2 M8,-2 L8,2"/><circle class="m" cx="0" cy="0" r="4.4" fill="#bbb"/><path class="t" d="M-3,-2.5 L3,2.5 M-3,2.5 L3,-2.5 M-4,0 L4,0 M0,-4 L0,4" style="stroke-width:1"/></g>
<g transform="translate(829.3 844.2)"><path class="m w" d="M-6.3,-0.4 L-3.4,-5.2 L3.4,-6.3 L6.3,-1.3 L4.6,4.4 L-2.5,6 Z"/><ellipse class="t" cx="-2.4" cy="1" rx="3.5" ry="4.7" transform="rotate(8)"/><ellipse class="t" cx="-2.4" cy="1" rx="2.1" ry="2.9" transform="rotate(8)"/><path class="t" d="M1.1,-3.1 L6,-1.3 M1.4,3.7 L4.6,4.4"/></g>
<g transform="translate(902.5 879.9) rotate(-5.2)"><path class="m w" d="M1.5,-3 L31.7,-3 L31.7,3 L1.5,3 Q-1.2,0 1.5,-3 Z"/><ellipse class="t" cx="2" cy="0" rx="1.4" ry="3"/><path class="t" d="M7.7,-3 L6.3,3"/><path class="t" d="M11.2,-3 L9.8,3"/><path class="t" d="M14.7,-3 L13.3,3"/><path class="t" d="M18.2,-3 L16.8,3"/><path class="t" d="M21.6,-3 L20.2,3"/><ellipse class="m w" cx="32.9" cy="0" rx="2.7" ry="5.9"/><path class="m w" d="M33.2,-5.1 L38,-6.4 L41.2,-4 L42.1,0 L41.2,4 L38,6.4 L33.2,5.1 L32.1,0 Z"/><ellipse class="t" cx="38.5" cy="0" rx="2.7" ry="4.7"/><path class="t" d="M33.2,-5.1 L36.4,-3.5 M33.2,5.1 L36.4,3.5"/></g>
<text class="n" x="402.5" y="729.1">17</text>
<path class="ld" d="M421.2,706.2 L472,677.5"/>
<text class="n" x="538.8" y="670.4">2</text>
<path class="ld" d="M548,671.2 L616.2,708.8"/>
<text class="n" x="613.8" y="655.4">1</text>
<path class="ld" d="M622,657 L671.2,682.5"/>
<text class="n" x="801.2" y="716.6">11</text>
<path class="ld" d="M752.5,672 L792.5,693.8"/>
<text class="n" x="769.5" y="756.6">1</text>
<path class="ld" d="M739.5,719.5 L766.2,733.8"/>
<text class="n" x="818.8" y="766.6">19</text>
<path class="ld" d="M776.2,786.2 L808.8,768.8"/>
<text class="n" x="439.5" y="780.4">8</text>
<path class="ld" d="M450,782.5 L488.8,801.2"/>
<text class="n" x="575.5" y="796.6">8</text>
<path class="ld" d="M587,792.5 L625,815"/>
<text class="n" x="688.8" y="927.8">8</text>
<path class="ld" d="M642.5,881.2 L681.2,903.8"/>
<text class="n" x="755" y="904.1">17</text>
<path class="ld" d="M772.5,878.8 L823.8,847.5"/>

<!-- 50_p03.svg -->
<path class="f" d="M591.2,1025.5L607.5,1021.2Q637.5,1022.5 635,1055L628.8,1090L605,1082.5L611.2,1062.5Q613,1048.8 607.5,1046.2L562.5,1053.8Z"/>
<path class="k" d="M607.5,1021.2Q637.5,1022.5 635,1055L628.8,1090.5"/>
<path class="k" d="M611.2,1062.5L605.5,1083"/>
<path class="f" d="M599.2,1110L511.2,1426.2Q520,1435.5 536.2,1432.5L621.8,1120Z"/>
<path class="k" d="M599.2,1110L511.2,1426.2Q520,1435.5 536.2,1432.5L621.8,1120"/>
<path class="f" d="M607.5,1021.2L553,1035.5Q536.2,1041.2 538.8,1058Q543,1073.8 572.5,1091.2L600,1107.5Q637.5,1127 675,1128.8L745,1125.5Q762.5,1127 763.8,1146.2L760,1167.5L664.5,1514.5Q673.8,1524.5 690,1521L782.5,1180Q790,1157.5 787.5,1140Q780,1105 745,1102L692.5,1104.5L670,1104.5Q650,1100.5 625,1092.5L600,1080L575,1065Q563.8,1058.8 562.5,1053.8L607.5,1046.2Z"/>
<path class="k" d="M607.5,1021.2L553,1035.5Q536.2,1041.2 538.8,1058Q543,1073.8 572.5,1091.2L600,1107.5Q637.5,1127 675,1128.8L745,1125.5Q762.5,1127 763.8,1146.2L760,1167.5L664.5,1514.5Q673.8,1524.5 690,1521L782.5,1180Q790,1157.5 787.5,1140Q780,1105 745,1102L692.5,1104.5L670,1104.5Q650,1100.5 625,1092.5L600,1080L575,1065Q563.8,1058.8 562.5,1053.8"/>
<path class="k" d="M562.5,1053.8L597.5,1048M602,1047L607.5,1046.2Q613,1048.8 611.2,1062.5"/>
<ellipse class="t" cx="595" cy="1045" rx="1.3" ry="2.8" transform="rotate(18 595 1045)"/>
<ellipse class="t" cx="723.2" cy="1119.5" rx="2" ry="2.8" transform="rotate(18 723.2 1119.5)"/>
<ellipse class="t" cx="762" cy="1179.5" rx="2.5" ry="3.5" transform="rotate(18 762 1179.5)"/>
<ellipse class="t" cx="591.8" cy="1216.2" rx="2" ry="2.8" transform="rotate(18 591.8 1216.2)"/>
<ellipse class="t" cx="553" cy="1295" rx="3.3" ry="4.5" transform="rotate(18 553 1295)"/>
<ellipse class="t" cx="744.5" cy="1305" rx="1.8" ry="2.6" transform="rotate(18 744.5 1305)"/>
<ellipse class="t" cx="523" cy="1403.2" rx="3.3" ry="4.5" transform="rotate(18 523 1403.2)"/>
<ellipse class="t" cx="706.2" cy="1383.2" rx="3" ry="4.2" transform="rotate(18 706.2 1383.2)"/>
<ellipse class="t" cx="675.5" cy="1491.2" rx="3.3" ry="4.5" transform="rotate(18 675.5 1491.2)"/>
<path class="t w" d="M599,1112.8L605.5,1111.8L606.5,1119.8L600,1120.8Z"/>
<path class="m" d="M599,1112.8L600,1120.8" style="stroke-width:2.2"/>
<path class="t w" d="M751.5,1200.2L758,1199.2L759,1207.2L752.5,1208.2Z"/>
<path class="m" d="M751.5,1200.2L752.5,1208.2" style="stroke-width:2.2"/>
<path class="t w" d="M541,1319L547.5,1318L548.5,1326L542,1327Z"/>
<path class="m" d="M541,1319L542,1327" style="stroke-width:2.2"/>
<path class="t w" d="M694,1406.5L700.5,1405.5L701.5,1413.5L695,1414.5Z"/>
<path class="m" d="M694,1406.5L695,1414.5" style="stroke-width:2.2"/>
<path class="dd" d="M596.2,1046.2 L641.2,1071.2"/>

<!-- 55_hw2.svg -->
<g transform="translate(469.5 1305)"><path class="m w" d="M-8.8,-0.6 L-4.7,-7.2 L4.7,-8.8 L8.8,-1.8 L6.4,6.2 L-3.5,8.4 Z"/><ellipse class="t" cx="-3.3" cy="1.4" rx="4.9" ry="6.6" transform="rotate(8)"/><ellipse class="t" cx="-3.3" cy="1.4" rx="2.9" ry="4.1" transform="rotate(8)"/><path class="t" d="M1.6,-4.3 L8.4,-1.8 M1.9,5.2 L6.4,6.2"/></g>
<g transform="translate(516.3 1298.8) rotate(-8)"><ellipse class="m w" cx="0" cy="0" rx="7.2" ry="9"/><ellipse class="t" cx="0" cy="0" rx="3.6" ry="4.5"/><ellipse cx="0" cy="0" rx="6.7" ry="8.4" fill="none" stroke="#000" stroke-width="1.6" stroke-dasharray="1.2 1.5"/></g>
<g transform="translate(423.8 1415)"><path class="m w" d="M-8.8,-0.6 L-4.7,-7.2 L4.7,-8.8 L8.8,-1.8 L6.4,6.2 L-3.5,8.4 Z"/><ellipse class="t" cx="-3.3" cy="1.4" rx="4.9" ry="6.6" transform="rotate(8)"/><ellipse class="t" cx="-3.3" cy="1.4" rx="2.9" ry="4.1" transform="rotate(8)"/><path class="t" d="M1.6,-4.3 L8.4,-1.8 M1.9,5.2 L6.4,6.2"/></g>
<g transform="translate(467 1410) rotate(-8)"><ellipse class="m w" cx="0" cy="0" rx="7.2" ry="9"/><ellipse class="t" cx="0" cy="0" rx="3.6" ry="4.5"/><ellipse cx="0" cy="0" rx="6.7" ry="8.4" fill="none" stroke="#000" stroke-width="1.6" stroke-dasharray="1.2 1.5"/></g>
<g transform="translate(635.5 1391.8)"><path class="m w" d="M-8.8,-0.6 L-4.7,-7.2 L4.7,-8.8 L8.8,-1.8 L6.4,6.2 L-3.5,8.4 Z"/><ellipse class="t" cx="-3.3" cy="1.4" rx="4.9" ry="6.6" transform="rotate(8)"/><ellipse class="t" cx="-3.3" cy="1.4" rx="2.9" ry="4.1" transform="rotate(8)"/><path class="t" d="M1.6,-4.3 L8.4,-1.8 M1.9,5.2 L6.4,6.2"/></g>
<g transform="translate(672.5 1386.3) rotate(-8)"><ellipse class="m w" cx="0" cy="0" rx="7.2" ry="9"/><ellipse class="t" cx="0" cy="0" rx="3.6" ry="4.5"/><ellipse cx="0" cy="0" rx="6.7" ry="8.4" fill="none" stroke="#000" stroke-width="1.6" stroke-dasharray="1.2 1.5"/></g>
<g transform="translate(611.3 1286.3) rotate(-7)"><ellipse class="m w" cx="34.5" cy="0" rx="6.5" ry="10"/><ellipse class="m w" cx="31.2" cy="0" rx="3.6" ry="5.4"/><path class="m w" d="M2,-3.8 L30,-3.8 Q32.2,0 30,3.8 L2,3.8 Q-1.6,0 2,-3.8 Z"/><path class="t" d="M7.8,-3.8 Q9.8,0 7.8,3.8"/><path class="t" d="M12.1,-3.8 Q14.1,0 12.1,3.8"/><path class="t" d="M16.4,-3.8 Q18.4,0 16.4,3.8"/><path class="t" d="M20.7,-3.8 Q22.7,0 20.7,3.8"/><path class="t" d="M25,-3.8 Q27,0 25,3.8"/></g>
<g transform="translate(578.8 1396.3) rotate(-7)"><ellipse class="m w" cx="34.5" cy="0" rx="6.5" ry="10"/><ellipse class="m w" cx="31.2" cy="0" rx="3.6" ry="5.4"/><path class="m w" d="M2,-3.8 L30,-3.8 Q32.2,0 30,3.8 L2,3.8 Q-1.6,0 2,-3.8 Z"/><path class="t" d="M7.8,-3.8 Q9.8,0 7.8,3.8"/><path class="t" d="M12.1,-3.8 Q14.1,0 12.1,3.8"/><path class="t" d="M16.4,-3.8 Q18.4,0 16.4,3.8"/><path class="t" d="M20.7,-3.8 Q22.7,0 20.7,3.8"/><path class="t" d="M25,-3.8 Q27,0 25,3.8"/></g>
<g transform="translate(766.3 1375) rotate(-7)"><ellipse class="m w" cx="34.5" cy="0" rx="6.5" ry="10"/><ellipse class="m w" cx="31.2" cy="0" rx="3.6" ry="5.4"/><path class="m w" d="M2,-3.8 L30,-3.8 Q32.2,0 30,3.8 L2,3.8 Q-1.6,0 2,-3.8 Z"/><path class="t" d="M7.8,-3.8 Q9.8,0 7.8,3.8"/><path class="t" d="M12.1,-3.8 Q14.1,0 12.1,3.8"/><path class="t" d="M16.4,-3.8 Q18.4,0 16.4,3.8"/><path class="t" d="M20.7,-3.8 Q22.7,0 20.7,3.8"/><path class="t" d="M25,-3.8 Q27,0 25,3.8"/></g>
<g transform="translate(530 1180)"><path class="m w" d="M-9.4,-3.5 L-5.3,-9.1 L-2.9,-10 L4.7,-5.3 L9.7,-0.2 L8.8,5.3 L1.2,10 L-1.2,9.6 L-10,4.5 Z"/><path d="M3.5,-3.5 L9.7,-0.2 L8.8,5.3 L1.2,10 Z" fill="#555" opacity="0.55"/><path d="M-5.3,-9.1 L-2.9,-10 L4.7,-5.3 L9.7,-0.2 L3.5,-3.5 Z" fill="#333" opacity="0.7"/><path class="t" d="M-5.3,-9.1 L3.5,-3.5 L1.2,10 M3.5,-3.5 L9.7,-0.2 M5.5,-2.4 L4,8.2 M7.6,-1.3 L6.4,6.8"/><ellipse class="m" cx="-3.2" cy="0" rx="3.3" ry="4"/><ellipse class="t" cx="-3.2" cy="0" rx="1.8" ry="2.4"/></g>
<g transform="translate(675 1270)"><path class="m w" d="M-9.4,-3.5 L-5.3,-9.1 L-2.9,-10 L4.7,-5.3 L9.7,-0.2 L8.8,5.3 L1.2,10 L-1.2,9.6 L-10,4.5 Z"/><path d="M3.5,-3.5 L9.7,-0.2 L8.8,5.3 L1.2,10 Z" fill="#555" opacity="0.55"/><path d="M-5.3,-9.1 L-2.9,-10 L4.7,-5.3 L9.7,-0.2 L3.5,-3.5 Z" fill="#333" opacity="0.7"/><path class="t" d="M-5.3,-9.1 L3.5,-3.5 L1.2,10 M3.5,-3.5 L9.7,-0.2 M5.5,-2.4 L4,8.2 M7.6,-1.3 L6.4,6.8"/><ellipse class="m" cx="-3.2" cy="0" rx="3.3" ry="4"/><ellipse class="t" cx="-3.2" cy="0" rx="1.8" ry="2.4"/></g>
<g transform="translate(499.5 1330)"><path class="m w" d="M-9.4,-3.5 L-5.3,-9.1 L-2.9,-10 L4.7,-5.3 L9.7,-0.2 L8.8,5.3 L1.2,10 L-1.2,9.6 L-10,4.5 Z"/><path d="M3.5,-3.5 L9.7,-0.2 L8.8,5.3 L1.2,10 Z" fill="#555" opacity="0.55"/><path d="M-5.3,-9.1 L-2.9,-10 L4.7,-5.3 L9.7,-0.2 L3.5,-3.5 Z" fill="#333" opacity="0.7"/><path class="t" d="M-5.3,-9.1 L3.5,-3.5 L1.2,10 M3.5,-3.5 L9.7,-0.2 M5.5,-2.4 L4,8.2 M7.6,-1.3 L6.4,6.8"/><ellipse class="m" cx="-3.2" cy="0" rx="3.3" ry="4"/><ellipse class="t" cx="-3.2" cy="0" rx="1.8" ry="2.4"/></g>
<g transform="translate(665 1414.5)"><path class="m w" d="M-9.4,-3.5 L-5.3,-9.1 L-2.9,-10 L4.7,-5.3 L9.7,-0.2 L8.8,5.3 L1.2,10 L-1.2,9.6 L-10,4.5 Z"/><path d="M3.5,-3.5 L9.7,-0.2 L8.8,5.3 L1.2,10 Z" fill="#555" opacity="0.55"/><path d="M-5.3,-9.1 L-2.9,-10 L4.7,-5.3 L9.7,-0.2 L3.5,-3.5 Z" fill="#333" opacity="0.7"/><path class="t" d="M-5.3,-9.1 L3.5,-3.5 L1.2,10 M3.5,-3.5 L9.7,-0.2 M5.5,-2.4 L4,8.2 M7.6,-1.3 L6.4,6.8"/><ellipse class="m" cx="-3.2" cy="0" rx="3.3" ry="4"/><ellipse class="t" cx="-3.2" cy="0" rx="1.8" ry="2.4"/></g>
<g transform="translate(673 1022.5) rotate(204)"><path class="m w" d="M1.5,-3 L38.9,-3 L38.9,3 L1.5,3 Q-1.2,0 1.5,-3 Z"/><ellipse class="t" cx="2" cy="0" rx="1.4" ry="3"/><path class="t" d="M8.5,-3 L7.1,3"/><path class="t" d="M12.8,-3 L11.4,3"/><path class="t" d="M17,-3 L15.6,3"/><path class="t" d="M21.3,-3 L19.9,3"/><path class="t" d="M25.6,-3 L24.2,3"/><ellipse class="m w" cx="40.1" cy="0" rx="2.6" ry="5.8"/><path class="m w" d="M40.4,-5 L45.1,-6.2 L48.2,-3.9 L49.1,0 L48.2,3.9 L45.1,6.2 L40.4,5 L39.3,0 Z"/><ellipse class="t" cx="45.6" cy="0" rx="2.6" ry="4.6"/><path class="t" d="M40.4,-5 L43.6,-3.4 M40.4,5 L43.6,3.4"/></g>
<g transform="translate(642 1072.5) rotate(33.8)"><path class="m w" d="M1.5,-3 L33.9,-3 L33.9,3 L1.5,3 Q-1.2,0 1.5,-3 Z"/><ellipse class="t" cx="2" cy="0" rx="1.4" ry="3"/><path class="t" d="M7.9,-3 L6.5,3"/><path class="t" d="M11.7,-3 L10.3,3"/><path class="t" d="M15.4,-3 L14,3"/><path class="t" d="M19.1,-3 L17.7,3"/><path class="t" d="M22.9,-3 L21.5,3"/><ellipse class="m w" cx="35.1" cy="0" rx="2.6" ry="5.8"/><path class="m w" d="M35.4,-5 L40.1,-6.2 L43.2,-3.9 L44.1,0 L43.2,3.9 L40.1,6.2 L35.4,5 L34.3,0 Z"/><ellipse class="t" cx="40.6" cy="0" rx="2.6" ry="4.6"/><path class="t" d="M35.4,-5 L38.6,-3.4 M35.4,5 L38.6,3.4"/></g>
<g transform="translate(692.5 1188)"><path class="m w" d="M-6.5,-0.4 L-3.5,-5.3 L3.5,-6.5 L6.5,-1.3 L4.7,4.6 L-2.6,6.2 Z"/><ellipse class="t" cx="-2.4" cy="1" rx="3.6" ry="4.9" transform="rotate(8)"/><ellipse class="t" cx="-2.4" cy="1" rx="2.1" ry="3" transform="rotate(8)"/><path class="t" d="M1.2,-3.2 L6.2,-1.3 M1.4,3.8 L4.7,4.6"/></g>
<g transform="translate(569.3 1503.8)"><path class="m w" d="M-8.8,-0.6 L-4.7,-7.2 L4.7,-8.8 L8.8,-1.8 L6.4,6.2 L-3.5,8.4 Z"/><ellipse class="t" cx="-3.3" cy="1.4" rx="4.9" ry="6.6" transform="rotate(8)"/><ellipse class="t" cx="-3.3" cy="1.4" rx="2.9" ry="4.1" transform="rotate(8)"/><path class="t" d="M1.6,-4.3 L8.4,-1.8 M1.9,5.2 L6.4,6.2"/></g>
<g transform="translate(612.5 1498.8) rotate(-8)"><ellipse class="m w" cx="0" cy="0" rx="7.2" ry="9"/><ellipse class="t" cx="0" cy="0" rx="3.6" ry="4.5"/><ellipse cx="0" cy="0" rx="6.7" ry="8.4" fill="none" stroke="#000" stroke-width="1.6" stroke-dasharray="1.2 1.5"/></g>
<g transform="translate(731.3 1484.5) rotate(-7)"><ellipse class="m w" cx="34.5" cy="0" rx="6.5" ry="10"/><ellipse class="m w" cx="31.2" cy="0" rx="3.6" ry="5.4"/><path class="m w" d="M2,-3.8 L30,-3.8 Q32.2,0 30,3.8 L2,3.8 Q-1.6,0 2,-3.8 Z"/><path class="t" d="M7.8,-3.8 Q9.8,0 7.8,3.8"/><path class="t" d="M12.1,-3.8 Q14.1,0 12.1,3.8"/><path class="t" d="M16.4,-3.8 Q18.4,0 16.4,3.8"/><path class="t" d="M20.7,-3.8 Q22.7,0 20.7,3.8"/><path class="t" d="M25,-3.8 Q27,0 25,3.8"/></g>
<text class="n" x="692" y="980.4">15</text>
<path class="ld" d="M675,984.2 L643.8,1000"/>
<text class="n" x="723.8" y="1054.1">15</text>
<path class="ld" d="M703.8,1057 L666.2,1076.2"/>
<text class="n" x="487.5" y="1019.1">3</text>
<path class="ld" d="M498.2,1017 L541.2,1040.5"/>
<text class="n" x="645" y="1165.4">17</text>
<path class="ld" d="M657.5,1166.2 L687.5,1183.8"/>
<text class="n" x="431.2" y="1391.6">12</text>
<path class="ld" d="M448.8,1363.8 L491.2,1340"/>
<text class="n" x="570" y="1594.1">18</text>
<path class="ld" d="M569.2,1513 L569.2,1567.5"/>
<text class="n" x="615" y="1581.6">14</text>
<path class="ld" d="M613.2,1508.8 L613.2,1553"/>
<text class="n" x="838" y="1442.8">16</text>
<path class="ld" d="M773.8,1473.8 L823.8,1445.5"/>

<!-- 60_p05.svg -->
<path class="f" d="M1140,932.5L1150,933.8L1195,942.5Q1232.5,945.5 1270,940.5Q1310,937 1337.5,955L1339,957L1370,982.5L1371,991.2L1373.8,991.5L1375,983L1407.5,995Q1427.5,1010 1430,1040L1430.5,1060Q1429.5,1090 1422.8,1111.8L1407,1173.5L1385.8,1235.2L1363,1297L1343.5,1350L1326.2,1399.8L1292.5,1455L1285.5,1454Q1265,1442.5 1320.2,1344.5Q1312.5,1322.5 1282.5,1312Q1245,1300.5 1205,1296.2L1182.5,1296.2L1120,1301.2L1030,1311.2L991.2,1316.2L1002.5,1302.5L1016.2,1292.5L1032.5,1232.5L1076.2,1117.5L1110,1010L1113.8,985Q1117.5,960 1131.2,946.2L1133.8,938Z"/>
<path class="k" d="M1343.5,1350L1363,1297L1385.8,1235.2L1407,1173.5L1422.8,1111.8Q1429.5,1090 1430.5,1060L1430,1040Q1427.5,1010 1407.5,995L1375,983L1373.8,991.5L1371,991.2L1370,982.5L1339,957L1337.5,955Q1310,937 1270,940.5Q1232.5,945.5 1195,942.5L1150,933.8L1140,932.5L1133.8,938L1131.2,946.2Q1117.5,960 1113.8,985L1110,1010L1076.2,1117.5L1032.5,1232.5L1016.2,1292.5L1002.5,1302.5L991.2,1316.2L1030,1311.2L1120,1301.2L1182.5,1296.2L1205,1296.2Q1245,1300.5 1282.5,1312Q1312.5,1322.5 1320.2,1344.5"/>
<path class="t" d="M1132.5,945L1140,936.2L1195,947.5Q1232.5,960 1270,956.2Q1302.5,952.5 1332.5,956.2"/>
<path class="t" d="M1140,936.2L1142.5,933"/>
<path class="t" d="M1332.5,956.2L1330,985Q1327.5,995 1340,1005Q1370,1027.5 1395,1037.5Q1402,1035 1404,1010"/>
<path class="t" d="M1404,1010Q1420,1017.5 1422.5,1040L1423,1060Q1422.5,1075 1415,1082.5L1405.5,1085Q1401.2,1086.5 1401.2,1092.5L1400,1100.5"/>
<path class="t" d="M1370,982.5L1407.5,998Q1422.5,1010 1425.5,1035"/>
<path class="t w" d="M1092.5,1011.2Q1095,1006.2 1110,1003.8Q1130,1001.2 1150,1006.2L1210,1018L1230,1024.5L1230,1028.8L1210,1025.5L1150,1013Q1140,1010 1120,1011.2L1100,1015.5Q1093.8,1015 1092.5,1011.2Z"/>
<path class="t" d="M1100,1016.2L1101.2,1021.2L1143.8,1022.5L1145,1015"/>
<path class="t" d="M1150,1006.2Q1170,1008.8 1210,1021.2"/>
<path class="f" d="M1232.2,1021.3Q1238.2,1016.9 1247.2,1015.7Q1254.6,1015.7 1260.6,1019.9Q1267.3,1025.1 1268.8,1031.4L1280,1035.5L1262.1,1038.9Q1247.2,1043.4 1236.7,1042.2L1234.5,1043.1L1227.8,1043.4L1226.3,1040L1227.8,1037.8Q1224.8,1031.8 1227.8,1025.8Z"/>
<path class="t" d="M1232.2,1021.3Q1238.2,1016.9 1247.2,1015.7Q1254.6,1015.7 1260.6,1019.9Q1267.3,1025.1 1268.8,1031.4"/>
<path class="t" d="M1268.8,1031.4L1280,1035.5L1262.1,1038.9Q1247.2,1042.2 1239.7,1041.5Q1235.2,1040.7 1233.7,1038.5"/>
<path class="t" d="M1226.3,1040L1227.8,1043.4L1234.5,1043.1L1236.7,1042.2Q1247.2,1043.4 1260.6,1040.7L1279.3,1036.6"/>
<path class="t" d="M1235.2,1022.8L1245.7,1019.9M1235.2,1025.1L1246,1023.2M1235.6,1033.7L1247.2,1031.4L1252.4,1033.3L1268.1,1031.6"/>
<path class="t" d="M1232.6,1021L1235.6,1020.4L1235.6,1024.7L1232.6,1025.2Z"/>
<path class="t" d="M1245.7,1017.2Q1251.6,1022.1 1252.4,1033.3M1243.4,1017.6Q1249.4,1023.6 1249.8,1033.1"/>
<ellipse class="m w" cx="1230.7" cy="1031.8" rx="4.1" ry="5.7" transform="rotate(8 1230.7 1031.8)"/>
<ellipse class="t" cx="1230.7" cy="1031.8" rx="2.2" ry="3.4" transform="rotate(8 1230.7 1031.8)"/>
<path class="t" d="M1226.3,1040Q1227.8,1038.5 1230.7,1038.5L1230.7,1043.1"/>
<path class="t" d="M1267.5,1035Q1320,1050 1360,1080Q1380,1095 1392.5,1110"/>
<path class="t" d="M1263.8,1040Q1317.5,1053.8 1357.5,1083.8Q1377.5,1098.8 1388.8,1113.8"/>
<path class="t" d="M1260,1042Q1315,1057.5 1355,1086.2"/>
<path class="t w" d="M1065,1110Q1068.8,1103.8 1090,1102Q1120,1102.5 1155,1113L1160,1117.5L1155,1118Q1130,1111.2 1100,1112L1072.5,1115.5Q1066.2,1115 1065,1110Z"/>
<path class="t" d="M1073,1116.2L1074.5,1121.2L1115.5,1122.5L1117.5,1113"/>
<path class="t" d="M1155,1113Q1220,1128 1295,1156.2Q1345,1178.8 1370,1207.5"/>
<path class="t" d="M1157.5,1117.5Q1220,1132.5 1292.5,1160Q1342.5,1182.5 1365,1212.5"/>
<path class="t" d="M1370,1207.5Q1365,1225 1360,1242.5"/>
<path class="t" d="M1070,1211.2Q1145,1182.5 1220,1173Q1282.5,1168.8 1320,1190Q1352.5,1210 1360,1242.5"/>
<path class="t w" d="M1023,1221.2Q1027.5,1213.8 1052.5,1212.5Q1082.5,1213.8 1110,1221.2L1165,1234.5L1167.5,1239.5L1110,1227Q1085,1222 1060,1223.8L1032.5,1227Q1023.8,1226.2 1023,1221.2Z"/>
<path class="t" d="M1032.5,1227.5L1033.8,1232.5L1080,1235L1085,1225.5"/>
<path class="f" d="M1174.7,1227.3Q1180.7,1222.9 1189.7,1221.7Q1197.1,1221.7 1203.1,1225.9Q1209.8,1231.1 1211.3,1237.4L1222.5,1241.5L1204.6,1244.9Q1189.7,1249.4 1179.2,1248.2L1177,1249.1L1170.3,1249.4L1168.8,1246L1170.3,1243.8Q1167.3,1237.8 1170.3,1231.8Z"/>
<path class="t" d="M1174.7,1227.3Q1180.7,1222.9 1189.7,1221.7Q1197.1,1221.7 1203.1,1225.9Q1209.8,1231.1 1211.3,1237.4"/>
<path class="t" d="M1211.3,1237.4L1222.5,1241.5L1204.6,1244.9Q1189.7,1248.2 1182.2,1247.5Q1177.7,1246.7 1176.2,1244.5"/>
<path class="t" d="M1168.8,1246L1170.3,1249.4L1177,1249.1L1179.2,1248.2Q1189.7,1249.4 1203.1,1246.7L1221.8,1242.6"/>
<path class="t" d="M1177.7,1228.8L1188.2,1225.9M1177.7,1231.1L1188.5,1229.2M1178.1,1239.7L1189.7,1237.4L1194.9,1239.3L1210.6,1237.6"/>
<path class="t" d="M1175.1,1227L1178.1,1226.4L1178.1,1230.7L1175.1,1231.2Z"/>
<path class="t" d="M1188.2,1223.2Q1194.1,1228.1 1194.9,1239.3M1185.9,1223.6Q1191.9,1229.6 1192.3,1239.1"/>
<ellipse class="m w" cx="1173.2" cy="1237.8" rx="4.1" ry="5.7" transform="rotate(8 1173.2 1237.8)"/>
<ellipse class="t" cx="1173.2" cy="1237.8" rx="2.2" ry="3.4" transform="rotate(8 1173.2 1237.8)"/>
<path class="t" d="M1168.8,1246Q1170.3,1244.5 1173.2,1244.5L1173.2,1249.1"/>
<path class="t" d="M1202.5,1243.8Q1270,1265 1305,1295Q1320,1308.8 1327.5,1320"/>
<path class="t" d="M1198.8,1247.5Q1267.5,1268.8 1301.2,1298.8Q1316.2,1312.5 1322.5,1323.8"/>
<path class="t" d="M1185,1250.5Q1245,1265 1285,1292.5"/>
<path class="t" d="M1007.5,1302.5Q1070,1286.2 1145,1288.8Q1182.5,1291.2 1205,1296.2"/>
<path class="t" d="M995,1313L1002.5,1306.2L1023.8,1305Q1031.2,1308.8 1023.8,1312.5Z"/>
<path class="t" d="M1016.2,1292.5L1007.5,1303"/>
<path class="t w" d="M1362.5,1113.8Q1365,1110 1375,1110L1395,1105.5L1392.5,1117.5L1382.5,1122.5Q1370,1120 1362.5,1113.8Z"/>
<ellipse class="t w" cx="1383.8" cy="1120" rx="3.8" ry="4.5"/>
<ellipse class="t" cx="1383.8" cy="1120" rx="1.8" ry="2.2"/>
<path class="t" d="M1380,1127.5Q1381.2,1132.5 1386.2,1130"/>
<path class="t w" d="M1351.2,1160Q1352.5,1156.2 1360,1155L1385,1149.5L1382.5,1162.5L1360,1164.5Q1352.5,1163.8 1351.2,1160Z"/>
<path class="t" d="M1357,1165.5L1358,1170L1380,1170"/>
<path class="t w" d="M1320,1256.2Q1322.5,1252.5 1330,1252L1358.8,1246.2L1353.8,1260L1330,1261.2Q1321.2,1260 1320,1256.2Z"/>
<path class="t" d="M1328,1262.5L1329,1267.5L1351.2,1267.5"/>
<path class="t w" d="M1305,1318Q1307.5,1314.5 1317.5,1315L1331.2,1312.5L1327.5,1325Q1312.5,1325 1305,1318Z"/>
<ellipse class="t w" cx="1326.2" cy="1327" rx="3.8" ry="4.5"/>
<ellipse class="t" cx="1326.2" cy="1327" rx="1.8" ry="2.2"/>
<path class="f" d="M1344.3,1348.9Q1351.2,1360 1355.4,1373.7L1356,1379.7L1349.8,1380.1L1348.6,1375.4Q1355.4,1401.2 1352,1420Q1358.9,1433.7 1355.4,1449.2Q1347.7,1471.4 1318.6,1485.2L1297.1,1488.1L1289.4,1454.3Q1279.1,1442.3 1282.6,1426.9Q1286,1416.6 1308.3,1378.9L1320.3,1351.4Z"/>
<path class="t" d="M1430.8,1072.9Q1426.4,1090.6 1407,1096.2L1403.5,1098.5"/>
<path class="t" d="M1405.6,1096.7Q1404.4,1120.6 1397.8,1141.7L1385.8,1191.1L1366.8,1252.9L1342.1,1314.6L1312.6,1390.4"/>
<path class="t" d="M1402.6,1098.5Q1401.7,1120.6 1395,1141.7L1383,1191.1L1364,1252.9L1339.3,1314.6L1309.6,1390.4"/>
<path class="t" d="M1400,1100.3L1389.4,1134.7L1375.3,1191.1L1359.4,1240.5L1338.2,1297L1318.8,1346.3L1297.6,1395.7"/>
<path class="t" d="M1398.5,1101.2L1388,1135L1373.8,1191.5L1358,1240.9L1336.8,1297.3L1317.4,1346.7L1296.2,1396.1"/>

<!-- 61_p05b.svg -->
<path class="k" d="M1344.3,1348.9Q1351.2,1360 1355.4,1373.7L1356,1379.7L1349.8,1380.1L1348.6,1375.4Q1355.4,1401.2 1352,1420Q1358.9,1433.7 1355.4,1449.2Q1347.7,1471.4 1318.6,1485.2L1297.1,1488.1L1289.4,1454.3Q1279.1,1442.3 1282.6,1426.9Q1286,1416.6 1308.3,1378.9L1316.9,1360"/>
<path class="k w" d="M1270.6,1364.3Q1273.1,1369.4 1279.1,1370.3L1310,1369.4L1320.3,1352.3Z"/>
<path class="t" d="M1279.1,1371.2L1280,1375.4L1308.3,1376.3"/>
<path class="t" d="M1333.2,1353.2Q1320.3,1373.7 1310,1394.3Q1296.3,1425.2 1293.7,1447.4Q1293.7,1461.2 1296.6,1469.7"/>
<path class="t" d="M1335.7,1353.2Q1322.4,1374.6 1312.1,1395.2Q1298.3,1426 1295.8,1448.3Q1295.8,1461.2 1298.7,1468.9"/>
<path class="t" d="M1339.2,1361.7Q1334,1368.6 1335.7,1385.7Q1337.4,1416.6 1315.2,1437.2"/>
<path class="t" d="M1340.9,1358.3Q1347.7,1372 1349.4,1394.3Q1351.2,1437.2 1298,1468"/>
<path class="t" d="M1310,1408Q1313.4,1428.6 1323.7,1447.4L1326.3,1462.9"/>
<path class="t" d="M1299.7,1469.7Q1327.2,1457.7 1344.3,1433.7Q1351.2,1420 1350.3,1402.9"/>
<path class="t w" d="M1316,1468Q1315.2,1463.7 1320.3,1463.7L1329.7,1465.4Q1332.3,1468 1331.4,1473.2L1325.4,1480Q1321.2,1479.2 1317.7,1474Z"/>
<path class="t" d="M1320.3,1469.7Q1323.7,1471.4 1325.4,1479.7"/>
<path class="t" d="M1298.3,1483.4L1317.7,1480.9L1318.6,1485.2"/>
<path class="t" d="M1296.3,1470.6L1299.7,1469.7"/>
<path class="t w" d="M1321.2,1255.4Q1323.7,1260.6 1327.2,1260.6L1354.6,1257.1L1358.9,1246.9Z"/>
<path class="t" d="M1327.2,1263.1L1328.9,1267.4L1352.9,1266.6"/>
<path class="t w" d="M1304.9,1318Q1306.6,1315.4 1313.4,1315.4L1334,1312L1330.6,1322.3L1323.7,1325.7Q1310,1323.2 1304.9,1318Z"/>
<ellipse class="t w" cx="1326.3" cy="1326.6" rx="3.1" ry="3.8"/>
<ellipse class="t" cx="1326.3" cy="1326.6" rx="1.4" ry="1.9"/>
<path class="t" d="M1320.3,1330.9Q1321.2,1334.3 1324.6,1333.4"/>

<!-- 65_p20.svg -->
<path class="k w" d="M1034.7,808.9L1075.6,785.1Q1079,786.8 1078.5,791L1050.9,816.1Z"/>
<ellipse class="t" cx="1067.9" cy="796.7" rx="1.6" ry="2.2" transform="rotate(20 1067.9 796.7)"/>
<path class="k w" d="M1012.5,800.4L1053.9,820L1031.3,863.5L1028.7,866.1L1020.2,863.5L1023.6,854.1L1015.1,849L1013.3,839.6L1005.7,821.7L1005.7,814.1Z"/>
<ellipse class="m" cx="1021.9" cy="833.2" rx="3.4" ry="4.4" transform="rotate(20 1021.9 833.2)"/>
<ellipse class="t" cx="1010.3" cy="814.1" rx="1.6" ry="2.2" transform="rotate(20 1010.3 814.1)"/>
<ellipse class="t" cx="1036.9" cy="836.6" rx="1.6" ry="2.2" transform="rotate(20 1036.9 836.6)"/>
<path class="m" d="M1004.5,820.5Q1003.5,829.4 1006.9,837.9L1013.7,840.5L1014,821.7Z" style="fill:#111"/>
<path class="t" d="M1007.9,827.7L1012.5,829.4" style="stroke:#fff;stroke-width:1.2"/>
<path class="m w" d="M1012.5,855.8L1021.9,853.3L1024.4,858.4L1020.2,861L1014.2,858.4Z"/>
<path class="k w" d="M1015.1,862.7L1021,864.4L1011.6,884.8L1005.7,883.1Z"/>
<path class="m" d="M1010.8,870.3L1016.8,872.4M1007.9,878L1013.7,880.1"/>
<path class="k w" d="M1005.7,887.4L1009.9,889.1L968.1,962.1L963.9,960.4Z"/>
<path class="t" d="M983.5,922.4L986.9,924.1"/>
<path class="k" d="M965.6,961.6L960.5,969.3L954.5,973.5L950.6,976.4" style="stroke-width:2.2"/>
<path class="k w" d="M1086.4,761.2Q1088.4,755.7 1094.4,757.1Q1108,763.2 1119.4,775.2Q1125.2,782 1123.4,787.8Q1121.5,791.2 1117.4,790.2L1101.2,785.1L1090.1,788.1Q1085,786.8 1081.6,778.2L1086,768.8Z"/>
<path class="t" d="M1089.3,762Q1103.8,768 1117.4,781.6L1120.8,789.3"/>
<path class="t" d="M1088.4,766.3L1112.3,781.6L1115.7,787.6"/>
<path class="m" d="M1086,768.8L1096.9,774.8L1113.1,785.1"/>
<path class="m" d="M1082.9,777.4L1090.1,772.3L1096.1,775.7L1090.1,787.6" style="fill:#222"/>
<ellipse class="t w" cx="1091.5" cy="779.1" rx="1.7" ry="2"/>
<ellipse class="t" cx="1120.5" cy="785.9" rx="1" ry="1.5"/>
<path class="k" d="M1157.5,817.5L1162.6,820.5" style="stroke-width:2.4"/>
<ellipse class="m w" cx="1166" cy="822.2" rx="2.4" ry="2.7"/>
<path class="t" d="M1164.5,820.9L1167.5,823.6M1167.5,820.9L1164.5,823.6"/>
<g transform="translate(1057.4 839.6)"><path class="m w" d="M-4.4,-0.3 L-2.4,-3.6 L2.4,-4.4 L4.4,-0.9 L3.2,3.1 L-1.8,4.2 Z"/><ellipse class="t" cx="-1.6" cy="0.7" rx="2.5" ry="3.3" transform="rotate(8)"/><ellipse class="t" cx="-1.6" cy="0.7" rx="1.4" ry="2" transform="rotate(8)"/><path class="t" d="M0.8,-2.1 L4.2,-0.9 M0.9,2.6 L3.2,3.1"/></g>
<g transform="translate(1067.1 855)"><path class="m w" d="M-4.4,-0.3 L-2.4,-3.6 L2.4,-4.4 L4.4,-0.9 L3.2,3.1 L-1.8,4.2 Z"/><ellipse class="t" cx="-1.6" cy="0.7" rx="2.5" ry="3.3" transform="rotate(8)"/><ellipse class="t" cx="-1.6" cy="0.7" rx="1.4" ry="2" transform="rotate(8)"/><path class="t" d="M0.8,-2.1 L4.2,-0.9 M0.9,2.6 L3.2,3.1"/></g>
<text class="n" x="1024.9" y="747.2">22</text>
<path class="ld" d="M1044.1,747.2 L1082.9,769.7"/>
<text class="n" x="1230" y="791.5">24</text>
<path class="ld" d="M1167.7,816.1 L1207.8,793.2"/>
<text class="n" x="1112.6" y="841">21</text>
<path class="ld" d="M1062,837.1 L1093.5,836.6"/>
<text class="n" x="1064.2" y="931.7">21</text>
<path class="ld" d="M1067.1,861 L1067.1,900.7"/>
<text class="n" x="1055.1" y="963">20</text>
<path class="ld" d="M998,917.2 L1035.5,938.2"/>
<text class="n" x="870" y="764.1">19</text>
<path class="ld" d="M828.8,781.2 L856.2,765"/>
<text class="n" x="925" y="946.6">15</text>
<path class="ld" d="M922.5,885 L922.5,917.5"/>
<text class="n" x="893" y="980.4">4</text>
<path class="ld" d="M845,929.5 L888,953"/>

<!-- 66_p09.svg -->
<path class="k w" d="M930,503L925,510.5Q930.5,522 939,518L943.5,508Z"/>
<path class="t" d="M926.8,508Q932,517 941.5,512.5M926,510Q931.5,519.5 940.5,515M925.5,512Q931,521.5 939.5,517"/>
<ellipse class="k w" cx="937" cy="505" rx="7.5" ry="4.2" transform="rotate(30 937 505)"/>
<path class="dd" d="M886.2,537.5 L926.2,516.2"/>
<text class="n" x="1002.5" y="571.6">9</text>
<path class="ld" d="M938.8,516.2 L992.5,547.5"/>
<text class="n" x="990" y="651.6">10</text>
<path class="ld" d="M923.8,596.2 L976.2,627.5"/>

<!-- 70_hw3.svg -->
<g transform="translate(1492.5 996.5) rotate(-5)"><ellipse class="m w" cx="0" cy="0" rx="8.6" ry="10.6"/><ellipse class="t" cx="0" cy="0" rx="2.3" ry="2.9"/></g>
<g transform="translate(1647 1085) rotate(-5)"><ellipse class="m w" cx="0" cy="0" rx="8.6" ry="10.6"/><ellipse class="t" cx="0" cy="0" rx="2.3" ry="2.9"/></g>
<g transform="translate(1451.2 1200.8) rotate(-5)"><ellipse class="m w" cx="0" cy="0" rx="8.6" ry="10.6"/><ellipse class="t" cx="0" cy="0" rx="2.3" ry="2.9"/></g>
<g transform="translate(1602 1289.5) rotate(-5)"><ellipse class="m w" cx="0" cy="0" rx="8.6" ry="10.6"/><ellipse class="t" cx="0" cy="0" rx="2.3" ry="2.9"/></g>
<g transform="translate(1548.8 988) rotate(-7.5)"><path class="m w" d="M1.5,-2.8 L42.8,-2.8 L42.8,2.8 L1.5,2.8 Q-1.2,0 1.5,-2.8 Z"/><ellipse class="t" cx="2" cy="0" rx="1.4" ry="2.8"/><path class="t" d="M10.1,-2.8 L8.7,2.8"/><path class="t" d="M16,-2.8 L14.6,2.8"/><path class="t" d="M21.9,-2.8 L20.5,2.8"/><path class="t" d="M27.7,-2.8 L26.3,2.8"/><ellipse class="m w" cx="44" cy="0" rx="2.5" ry="5.5"/><path class="m w" d="M44.3,-4.8 L48.8,-6 L51.8,-3.7 L52.6,0 L51.8,3.7 L48.8,6 L44.3,4.8 L43.2,0 Z"/><ellipse class="t" cx="49.2" cy="0" rx="2.5" ry="4.4"/><path class="t" d="M44.3,-4.8 L47.3,-3.3 M44.3,4.8 L47.3,3.3"/></g>
<g transform="translate(1703 1077) rotate(-7.5)"><path class="m w" d="M1.5,-2.8 L42.8,-2.8 L42.8,2.8 L1.5,2.8 Q-1.2,0 1.5,-2.8 Z"/><ellipse class="t" cx="2" cy="0" rx="1.4" ry="2.8"/><path class="t" d="M10.1,-2.8 L8.7,2.8"/><path class="t" d="M16,-2.8 L14.6,2.8"/><path class="t" d="M21.9,-2.8 L20.5,2.8"/><path class="t" d="M27.7,-2.8 L26.3,2.8"/><ellipse class="m w" cx="44" cy="0" rx="2.5" ry="5.5"/><path class="m w" d="M44.3,-4.8 L48.8,-6 L51.8,-3.7 L52.6,0 L51.8,3.7 L48.8,6 L44.3,4.8 L43.2,0 Z"/><ellipse class="t" cx="49.2" cy="0" rx="2.5" ry="4.4"/><path class="t" d="M44.3,-4.8 L47.3,-3.3 M44.3,4.8 L47.3,3.3"/></g>
<g transform="translate(1508.8 1192.5) rotate(-7.5)"><path class="m w" d="M1.5,-2.8 L32.8,-2.8 L32.8,2.8 L1.5,2.8 Q-1.2,0 1.5,-2.8 Z"/><ellipse class="t" cx="2" cy="0" rx="1.4" ry="2.8"/><path class="t" d="M10.2,-2.8 L8.8,2.8"/><path class="t" d="M16.2,-2.8 L14.8,2.8"/><path class="t" d="M22.2,-2.8 L20.8,2.8"/><ellipse class="m w" cx="34" cy="0" rx="2.5" ry="5.5"/><path class="m w" d="M34.3,-4.8 L38.8,-6 L41.8,-3.7 L42.6,0 L41.8,3.7 L38.8,6 L34.3,4.8 L33.2,0 Z"/><ellipse class="t" cx="39.2" cy="0" rx="2.5" ry="4.4"/><path class="t" d="M34.3,-4.8 L37.3,-3.3 M34.3,4.8 L37.3,3.3"/></g>
<g transform="translate(1657 1282) rotate(-7.5)"><path class="m w" d="M1.5,-2.8 L33.3,-2.8 L33.3,2.8 L1.5,2.8 Q-1.2,0 1.5,-2.8 Z"/><ellipse class="t" cx="2" cy="0" rx="1.4" ry="2.8"/><path class="t" d="M10.3,-2.8 L8.9,2.8"/><path class="t" d="M16.4,-2.8 L15,2.8"/><path class="t" d="M22.5,-2.8 L21.1,2.8"/><ellipse class="m w" cx="34.5" cy="0" rx="2.5" ry="5.5"/><path class="m w" d="M34.8,-4.8 L39.3,-6 L42.3,-3.7 L43.1,0 L42.3,3.7 L39.3,6 L34.8,4.8 L33.7,0 Z"/><ellipse class="t" cx="39.7" cy="0" rx="2.5" ry="4.4"/><path class="t" d="M34.8,-4.8 L37.8,-3.3 M34.8,4.8 L37.8,3.3"/></g>
<text class="n" x="1565" y="1067.1">23</text>
<path class="ld" d="M1503.8,1008 L1556.2,1037.5"/>
<text class="n" x="1642" y="1050.4">7</text>
<path class="ld" d="M1580.5,993 L1632,1022.5"/>
<text class="n" x="1718" y="1155.8">23</text>
<path class="ld" d="M1655.5,1096.8 L1708,1126.2"/>
<text class="n" x="1788.8" y="1142.8">7</text>
<path class="ld" d="M1726.8,1083.8 L1778.8,1113"/>
<text class="n" x="1519.5" y="1273.4">23</text>
<path class="ld" d="M1457.5,1212.5 L1510,1241.8"/>
<text class="n" x="1595.5" y="1257.8">6</text>
<path class="ld" d="M1532.5,1198.2 L1585,1228"/>
<text class="n" x="1670.5" y="1362.1">23</text>
<path class="ld" d="M1607.5,1302 L1660,1331.2"/>
<text class="n" x="1753.2" y="1353.4">6</text>
<path class="ld" d="M1680,1290.5 L1744.5,1327"/>
<text class="n" x="1418.9" y="1518.2">5</text>
<path class="ld" d="M1355.4,1455.7 L1408.6,1486"/>

</svg>
</body></html>
